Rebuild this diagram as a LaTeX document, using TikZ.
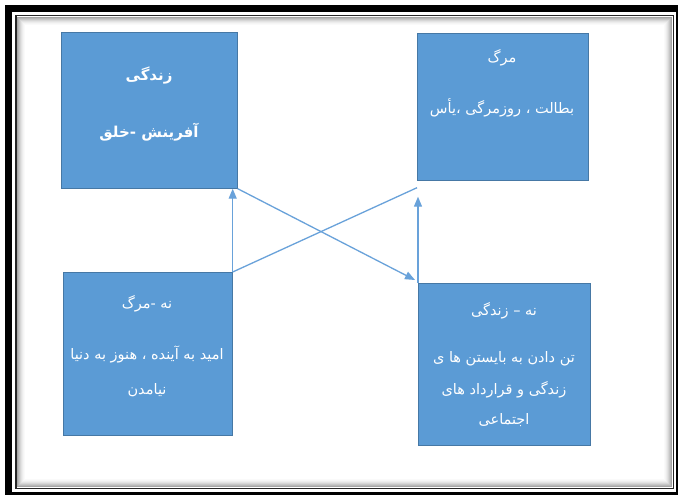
\documentclass[tikz,border=0pt]{standalone}
\usepackage{fontspec}
\newfontfamily\arabicfont[Script=Arabic]{DejaVu Sans}
\TeXXeTstate=1
\usetikzlibrary{arrows.meta,calc}
\definecolor{boxblue}{RGB}{91,155,213}
\definecolor{boxedge}{RGB}{70,120,165}
\definecolor{linkblue}{RGB}{105,162,218}
\begin{document}
\begin{tikzpicture}[x=1pt,y=-1pt,
  box/.style={draw=boxedge, line width=0.7pt, fill=boxblue, anchor=north west, inner sep=0pt},
  lbl/.style={text=white, font=\arabicfont\fontsize{14.5}{16}\selectfont, inner sep=0pt},
  biglbl/.style={text=white, font=\arabicfont\bfseries\fontsize{15}{17}\selectfont, inner sep=0pt},
  link/.style={draw=linkblue, line width=1.3pt},
  arr/.style={link, -{Triangle[length=10pt,width=8pt]}}]
\useasboundingbox (0,0) rectangle (678,495);
% frame
\fill[black] (5,5) rectangle (678,495);
\fill[white] (12,12) rectangle (676,492);
\fill[black!85] (15,15) rectangle (674,489);
\fill[white] (16.5,16.5) rectangle (672.5,487.5);
\foreach \d/\o in {1/0.35,2/0.28,3/0.22,4/0.16,5/0.11,6/0.07,7/0.04,8/0.02}{
  \draw[black, opacity=\o, line width=1pt] (16.5+\d,16.5+\d) rectangle (672.5-\d,487.5-\d);
}
% boxes
\node[box, minimum width=176pt, minimum height=156pt] (A) at (61,32) {};
\node[box, minimum width=171pt, minimum height=147pt] (B) at (417,33) {};
\node[box, minimum width=169pt, minimum height=163pt] (C) at (63,272) {};
\node[box, minimum width=172pt, minimum height=162pt] (D) at (418,283) {};
% labels
\node[biglbl] (a1) at (149,76) {\beginR زندگی\endR};
\node[biglbl] (a2) at (149,132) {\beginR آفرینش -خلق\endR};
\node[lbl] (b1) at (502,58) {\beginR مرگ\endR};
\node[lbl] (b2) at (502,108) {\beginR بطالت ، روزمرگی ،یأس\endR};
\node[lbl] (c1) at (147,304) {\beginR نه -مرگ\endR};
\node[lbl] (c2) at (147,354) {\beginR امید به آینده ، هنوز به دنیا\endR};
\node[lbl] (c3) at (147,390) {\beginR نیامدن\endR};
\node[lbl] (d1) at (504,311) {\beginR نه – زندگی\endR};
\node[lbl] (d2) at (504,359) {\beginR تن دادن به بایستن ها ی\endR};
\node[lbl] (d3) at (504,390) {\beginR زندگی و قرارداد های\endR};
\node[lbl] (d4) at (504,420) {\beginR اجتماعی\endR};
% connectors
\coordinate (bEnd) at ($(B.south west)+(0,7)$);
\coordinate (bTip) at ($(B.south west)+(1,16)$);
\draw[arr] (C.north east) -- (C.north east |- A.south);
\draw[arr] (A.south east) -- ($(D.north west)+(-3,-3)$);
\draw[link] (C.north east) -- (bEnd);
\draw[arr] (D.north west) -- (D.north west |- bTip);
\end{tikzpicture}
\end{document}
